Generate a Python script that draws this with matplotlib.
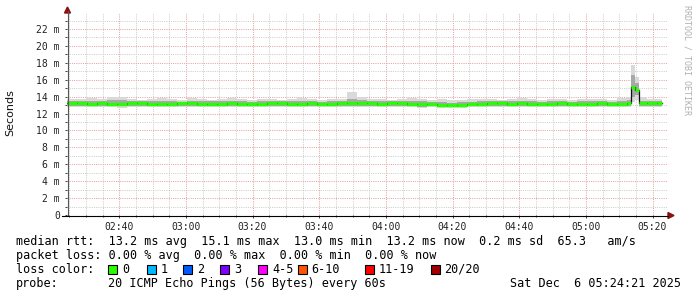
import matplotlib
matplotlib.use("Agg")
import matplotlib.pyplot as plt
from matplotlib.lines import Line2D
from matplotlib.patches import Polygon, Rectangle
from matplotlib.ticker import FixedLocator, FixedFormatter

W, H = 697, 297

#################################data############################################
# block start times in minutes after the graph start (02:24:21), data ends at t_end
graph_start = "02:24:21"
t_start = [0, 3, 6, 9, 12, 15, 18, 21, 24, 27, 30, 33, 36, 39, 42, 45, 48, 51, 54, 57,
           60, 63, 66, 69, 72, 75, 78, 81, 84, 87, 90, 93, 96, 99, 102, 105, 108, 111,
           114, 117, 120, 123, 126, 129, 132, 135, 138, 141, 144, 147, 150, 153, 156,
           159, 162, 165, 168, 169.2, 170.4, 171.6, 174, 177]
t_end = 178.5

# median rtt (ms)
median = [13.2, 13.2, 13.15, 13.2, 13.1, 13.15, 13.2, 13.2, 13.15, 13.1,
          13.15, 13.2, 13.2, 13.15, 13.1, 13.15, 13.2, 13.15, 13.1, 13.15,
          13.2, 13.2, 13.15, 13.15, 13.2, 13.15, 13.1, 13.2, 13.25, 13.2,
          13.2, 13.15, 13.2, 13.2, 13.15, 13.1, 13.15, 13.05, 13.0, 13.05,
          13.1, 13.15, 13.2, 13.2, 13.15, 13.2, 13.15, 13.1, 13.15, 13.2,
          13.15, 13.1, 13.15, 13.2, 13.15, 13.15,
          13.2, 15.1, 14.8, 13.2, 13.2, 13.2]

# smoke: min / max of the pings
smoke_hi = [13.7, 13.75, 13.8, 13.7, 14.0, 13.9, 13.7, 13.65, 13.75, 13.8,
            13.7, 13.65, 13.8, 13.7, 13.65, 13.75, 13.8, 13.7, 13.65, 13.75,
            13.7, 13.65, 13.75, 13.8, 13.7, 13.65, 13.7, 13.75, 14.5, 13.9,
            13.75, 13.7, 13.65, 13.7, 13.8, 13.7, 13.65, 13.7, 13.6, 13.65,
            13.7, 13.75, 13.7, 13.65, 13.75, 13.8, 13.7, 13.65, 13.75, 13.7,
            13.65, 13.7, 13.75, 13.7, 13.65, 13.8,
            14.0, 17.7, 16.3, 14.0, 13.7, 13.75]
smoke_lo = [12.8, 12.75, 12.8, 12.8, 12.75, 12.7, 12.8, 12.8, 12.75, 12.8,
            12.8, 12.75, 12.8, 12.75, 12.8, 12.8, 12.75, 12.8, 12.8, 12.75,
            12.8, 12.8, 12.75, 12.8, 12.8, 12.75, 12.8, 12.8, 12.75, 12.8,
            12.8, 12.75, 12.8, 12.8, 12.75, 12.7, 12.75, 12.65, 12.7, 12.7,
            12.75, 12.8, 12.8, 12.75, 12.8, 12.8, 12.75, 12.8, 12.8, 12.75,
            12.8, 12.75, 12.8, 12.8, 12.75, 12.8,
            12.8, 13.4, 13.6, 12.8, 12.75, 12.8]
# denser part of the smoke
inner_hi = [13.45, 13.45, 13.5, 13.45, 13.6, 13.55, 13.45, 13.45, 13.45, 13.5,
            13.45, 13.4, 13.5, 13.45, 13.45, 13.45, 13.5, 13.45, 13.4, 13.45,
            13.45, 13.45, 13.45, 13.5, 13.45, 13.4, 13.45, 13.5, 13.75, 13.55,
            13.5, 13.45, 13.45, 13.45, 13.5, 13.45, 13.4, 13.35, 13.3, 13.35,
            13.4, 13.45, 13.45, 13.45, 13.45, 13.5, 13.45, 13.4, 13.45, 13.45,
            13.4, 13.45, 13.45, 13.45, 13.4, 13.5,
            13.6, 16.6, 15.6, 13.5, 13.45, 13.45]
inner_lo = [12.9, 12.9, 12.85, 12.9, 12.85, 12.85, 12.9, 12.9, 12.85, 12.85,
            12.9, 12.85, 12.9, 12.85, 12.85, 12.9, 12.85, 12.85, 12.85, 12.85,
            12.9, 12.9, 12.85, 12.9, 12.9, 12.85, 12.85, 12.9, 12.9, 12.9,
            12.9, 12.85, 12.9, 12.9, 12.85, 12.8, 12.85, 12.75, 12.75, 12.8,
            12.85, 12.9, 12.9, 12.85, 12.9, 12.9, 12.85, 12.85, 12.9, 12.85,
            12.85, 12.85, 12.9, 12.9, 12.85, 12.9,
            12.9, 14.0, 14.2, 12.9, 12.85, 12.9]

x_tick_labels = ["02:40", "03:00", "03:20", "03:40", "04:00", "04:20", "04:40", "05:00", "05:20"]
y_ticks = [0, 2, 4, 6, 8, 10, 12, 14, 16, 18, 20, 22]

legend_lines = [
    "median rtt:  13.2 ms avg  15.1 ms max  13.0 ms min  13.2 ms now  0.2 ms sd  65.3   am/s",
    "packet loss: 0.00 % avg  0.00 % max  0.00 % min  0.00 % now",
]
loss_labels = ["0", "1", "2", "3", "4-5", "6-10", "11-19", "20/20"]
loss_colors = ["#26ff00", "#00b8ff", "#0059ff", "#7e00ff", "#ff00ff", "#ff5500", "#ff0000", "#a10000"]
probe_text = "20 ICMP Echo Pings (56 Bytes) every 60s"
date_text = "Sat Dec  6 05:24:21 2025"


def clock_to_min(s):
    parts = [int(p) for p in s.split(":")] + [0]
    h, m, sec = parts[0], parts[1], parts[2]
    h0, m0, s0 = [int(p) for p in graph_start.split(":")]
    return (h * 60 + m + sec / 60) - (h0 * 60 + m0 + s0 / 60)


def fx(x):
    return x / W


def fy(y):
    return 1 - y / H


#################################plot############################################
fig = plt.figure(figsize=(W / 100, H / 100), dpi=100)
fig.patch.set_facecolor("white")

px_per_ms = 186 / 22
ax = fig.add_axes([fx(67), fy(215), 600 / W, 202 / H])
ax.set_xlim(0, 180)
ax.set_ylim(0, 202 / px_per_ms)
for s in ax.spines.values():
    s.set_visible(False)

edges = t_start + [t_end]
ax.fill_between(edges, smoke_lo + [smoke_lo[-1]], smoke_hi + [smoke_hi[-1]],
                step="post", color="#d9d9d9", lw=0, zorder=2)
ax.fill_between(edges, inner_lo + [inner_lo[-1]], inner_hi + [inner_hi[-1]],
                step="post", color="#a8a8a8", lw=0, zorder=3)
ax.step(edges, median + [median[-1]], where="post", color="#111111", lw=0.9, zorder=4)
ax.hlines(median, t_start, edges[1:], color=loss_colors[0], lw=2.4, zorder=5)

# ticks and grid
major_x = [clock_to_min(s) for s in x_tick_labels]
first = major_x[0] % 5
minor_x = [first + 5 * k for k in range(36) if first + 5 * k < 180]
ax.xaxis.set_major_locator(FixedLocator(major_x))
ax.xaxis.set_major_formatter(FixedFormatter(x_tick_labels))
ax.xaxis.set_minor_locator(FixedLocator(minor_x))
ax.yaxis.set_major_locator(FixedLocator(y_ticks))
ax.yaxis.set_major_formatter(FixedFormatter(["0"] + [f"{v} m" for v in y_ticks[1:]]))
ax.yaxis.set_minor_locator(FixedLocator([v + 1 for v in y_ticks]))

ax.grid(True, which="minor", color="#cccccc", lw=0.72, ls=(0, (1, 1.2)), zorder=1)
ax.grid(True, which="major", color="#e6a2a2", lw=0.72, ls=(0, (1, 1.2)), zorder=1)
ax.set_axisbelow(True)

ax.tick_params(axis="both", which="both", direction="out", color="#444444", width=0.72,
               labelsize=7, labelcolor="#222222")
ax.tick_params(axis="y", which="both", length=1.6, pad=3.6)
ax.tick_params(axis="x", which="major", length=2.2, pad=3.2)
ax.tick_params(axis="x", which="minor", length=1.4)
for lab in ax.get_xticklabels() + ax.get_yticklabels():
    lab.set_family("DejaVu Sans Mono")

# axis lines and arrows
fig.add_artist(Line2D([fx(67.5), fx(67.5)], [fy(215), fy(11)], color="#555555", lw=0.8))
fig.add_artist(Line2D([fx(62), fx(668)], [fy(215.5), fy(215.5)], color="black", lw=0.8))
fig.add_artist(Polygon([(fx(64.5), fy(13)), (fx(70.5), fy(13)), (fx(67.5), fy(7))],
                       closed=True, color="#8b1010"))
fig.add_artist(Polygon([(fx(668), fy(212.5)), (fx(668), fy(218.5)), (fx(674), fy(215.5))],
                       closed=True, color="#8b1010"))

# labels
fig.text(fx(10), fy(113), "Seconds", rotation=90, ha="center", va="center",
         fontsize=8, family="DejaVu Sans", color="#111111")
fig.text(fx(687), fy(60), "RRDTOOL / TOBI OETIKER", rotation=270, ha="center", va="center",
         fontsize=6, family="DejaVu Sans Mono", color="#b0b0b0")

mono = dict(fontsize=8.5, family="DejaVu Sans Mono", color="black", va="center")
fig.text(fx(16), fy(241), legend_lines[0], **mono)
fig.text(fx(16), fy(255.7), legend_lines[1], **mono)
fig.text(fx(16), fy(269.3), "loss color:", **mono)
square_x = [108, 146.5, 183, 220, 258, 297.5, 365, 430.5]
for x, lab, col in zip(square_x, loss_labels, loss_colors):
    fig.add_artist(Rectangle((fx(x), fy(274)), 9 / W, 9 / H, facecolor=col,
                             edgecolor="black", lw=0.8))
    fig.text(fx(x + 14), fy(269.3), lab, **mono)
fig.text(fx(16), fy(283.3), "probe:", **mono)
fig.text(fx(107.7), fy(283.3), probe_text, **mono)
fig.text(fx(681), fy(283.3), date_text, ha="right", **mono)

fig.savefig("out.png", dpi=100, facecolor="white")
